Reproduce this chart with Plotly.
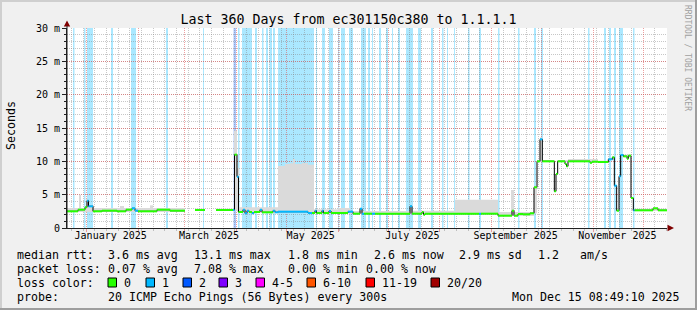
import pandas as pd
import plotly.graph_objects as go

START = pd.Timestamp("2024-12-20 08:49:10")
END = pd.Timestamp("2025-12-15 08:49:10")
SPAN_DAYS = 360.0

# ---------------- data ----------------
# median RTT step series: start of step (days after START), median (ms), loss class (0,1,2)
med_day = [0.0, 6.6, 10.8, 12.0, 12.9, 15.6, 21.0, 30.0, 35.4, 39.0,
           40.8, 42.6, 54.0, 61.8, 70.8, 76.8, 82.8, 89.4, 99.6, 100.5,
           102.0, 102.9, 105.6, 106.8, 108.0, 109.2, 111.0, 112.2, 115.8, 117.0,
           123.6, 124.8, 126.6, 144.6, 147.0, 148.8, 149.7, 153.0, 153.9, 157.2,
           158.4, 168.6, 171.6, 175.8, 177.0, 178.2, 183.0, 184.8, 205.8, 207.0,
           213.0, 213.9, 214.8, 247.2, 248.4, 258.6, 267.0, 268.2, 270.6, 273.6,
           277.8, 280.2, 282.0, 283.8, 285.2, 292.4, 293.4, 294.4, 298.8, 299.7,
           300.6, 313.8, 315.0, 318.6, 324.8, 327.2, 328.4, 329.8, 331.2, 332.2,
           333.8, 336.0, 336.8, 338.4, 339.8, 340.5, 351.6, 354.6]
med_ms = [2.5, 2.75, 3.1, 4.1, 3.25, 2.5, 2.6, 2.5, 2.75, 2.95,
          2.6, 2.5, 2.75, 2.6, None, 2.7, None, 2.7, 2.7, 11.0,
          7.7, 2.4, 2.75, 2.2, 2.6, 2.4, 2.2, 2.4, 2.75, 2.35,
          2.6, 2.35, 2.45, 2.25, 2.25, 2.6, 2.25, 2.6, 2.25, 2.55,
          2.25, 2.45, 2.15, 2.9, 2.15, 2.15, 2.15, 2.15, 3.25, 2.15,
          2.4, 2.0, 2.15, 2.15, 2.15, 1.85, 2.6, 1.85, 2.1, 2.05,
          2.2, 6.1, 10.0, 13.3, 10.0, 5.5, 8.1, 10.0, 9.6, 9.25,
          10.0, 9.8, 9.95, 9.9, 10.3, 10.6, 6.35, 2.6, 7.75, 10.95,
          10.75, 10.4, 10.85, 4.5, 2.65, 2.65, 2.95, 2.65]
med_loss = [0, 0, 0, 1, 1, 0, 0, 0, 0, 1,
            1, 0, 0, 0, 0, 0, 0, 0, 1, 0,
            1, 0, 1, 1, 1, 0, 1, 0, 1, 0,
            1, 1, 1, 1, 0, 1, 0, 1, 0, 1,
            0, 1, 0, 1, 1, 0, 1, 0, 1, 0,
            0, 0, 0, 1, 0, 0, 0, 0, 0, 0,
            0, 0, 0, 1, 0, 0, 0, 0, 0, 0,
            0, 0, 0, 0, 1, 0, 1, 0, 1, 1,
            0, 0, 0, 0, 1, 0, 0, 0]

# smoke (ping spread): step start (days), low (ms), high (ms)
smoke_day = [0.0, 7.2, 8.1, 11.4, 12.6, 16.2, 31.8, 34.2, 49.8, 51.6,
             70.8, 76.8, 82.8, 89.4, 100.2, 102.0, 102.9, 126.6, 130.8, 133.8,
             135.6, 136.8, 141.0, 144.6, 148.2, 162.6, 169.8, 205.8, 207.0, 232.8,
             258.6, 266.4, 268.2, 280.2, 282.0, 283.8, 285.2, 292.4, 293.4, 294.4,
             300.6, 318.6, 324.8, 328.4, 333.8, 338.4]
smoke_lo = [2.4, 2.4, 2.4, 2.4, 2.4, 2.4, 2.4, 2.4, 2.4, 2.4,
            None, 2.6, None, 2.6, 2.6, 2.4, 2.3, 2.3, 2.3, 2.3,
            2.3, 2.3, 2.3, 2.3, 2.2, 2.2, 2.1, 2.1, 2.1, 2.1,
            1.8, 1.8, 1.8, 2.2, 9.9, 9.9, 9.9, 5.4, 8.0, 9.9,
            9.9, 9.8, 10.2, None, 10.6, 2.6]
smoke_hi = [3.0, 5.0, 3.0, 4.3, 3.4, 3.0, 3.3, 3.0, 3.4, 3.0,
            None, 2.9, None, 2.9, 14.6, 9.0, 3.1, 9.3, 9.6, 9.7,
            10.35, 9.6, 9.75, 9.5, 2.8, 3.0, 2.55, 3.4, 2.6, 4.25,
            2.4, 5.7, 2.4, 6.3, 10.2, 13.6, 10.2, 5.7, 8.3, 10.2,
            10.35, 10.1, 10.5, None, 11.0, 2.9]

# loss background bands: start/end (days after START), loss class
band_start = [3.6, 10.2, 12.0, 26.4, 38.4, 59.4, 81.6, 99.9, 102.6, 105.0,
              112.8, 117.0, 119.4, 121.5, 123.6, 126.6, 149.4, 153.0, 157.2, 162.6,
              164.4, 169.2, 176.4, 180.6, 183.0, 187.2, 191.4, 195.0, 198.6, 203.4,
              210.6, 218.4, 225.0, 228.0, 232.2, 240.6, 247.2, 258.6, 270.6, 280.2,
              284.4, 312.6, 322.2, 325.2, 328.2, 331.2, 339.6]
band_end = [4.5, 11.1, 15.6, 27.6, 41.4, 60.6, 82.2, 101.4, 103.5, 111.0,
            114.0, 117.9, 120.6, 123.0, 124.8, 148.2, 150.0, 154.8, 159.6, 163.2,
            166.8, 171.6, 179.4, 181.8, 183.6, 188.4, 192.6, 195.6, 199.8, 207.6,
            212.4, 219.6, 225.9, 228.6, 232.8, 241.5, 248.4, 259.5, 271.5, 281.4,
            285.6, 313.5, 323.4, 326.4, 329.4, 333.6, 340.5]
band_loss = [1, 1, 1, 1, 1, 1, 1, 2, 1, 1,
             1, 1, 1, 1, 1, 1, 1, 1, 1, 1,
             1, 1, 1, 1, 1, 1, 1, 1, 1, 1,
             1, 1, 1, 1, 1, 1, 1, 1, 1, 1,
             1, 1, 1, 1, 1, 1, 1]

month_label_dates = ["2025-01-15 14:00", "2025-03-15 14:00", "2025-05-15 14:00",
                     "2025-07-15 14:00", "2025-09-15 14:00", "2025-11-15 14:00"]
month_labels = ["January 2025", "March 2025", "May 2025",
                "July 2025", "September 2025", "November 2025"]
y_tick_vals = [0, 5, 10, 15, 20, 25, 30]
y_tick_text = ["0", "5 m", "10 m", "15 m", "20 m", "25 m", "30 m"]

loss_labels = ["0", "1", "2", "3", "4-5", "6-10", "11-19", "20/20"]
loss_colors = ["#26ff00", "#00b8ff", "#0059ff", "#7e00ff", "#ff00ff", "#ff5500", "#ff0000", "#a10000"]

rtt_stats = ["3.6 ms avg", "13.1 ms max", "1.8 ms min", "2.6 ms now", "2.9 ms sd", "1.2", "am/s"]
loss_stats = ["0.07 % avg", "7.08 % max", "0.00 % min", "0.00 % now"]
probe_text = "20 ICMP Echo Pings (56 Bytes) every 300s"
stamp_text = "Mon Dec 15 08:49:10 2025"
title_text = "Last 360 Days from ec301150c380 to 1.1.1.1"

# ---------------- styling ----------------
MONO = "DejaVu Sans Mono"
BACK = "#f0f0f0"
AXIS = "#202020"
MGRID = "rgba(222,80,80,0.55)"
GRID = "rgba(130,130,130,0.45)"
SMOKE = "#dadada"
BAND = {1: "rgba(0,184,255,0.33)", 2: "rgba(0,89,255,0.33)"}
DOT = "1px,1px"

W, H = 697, 310
PL, PR, PT, PB = 67, 667, 28, 228


def px(x):
    return (x - PL) / (PR - PL)


def py(y):
    return (PB - y) / (PB - PT)


def ts(d):
    return (START + pd.to_timedelta(d, unit="D")).strftime("%Y-%m-%d %H:%M:%S")


fig = go.Figure()

# smoke bars
edges = smoke_day + [SPAN_DAYS]
sx, sw, sb, sh = [], [], [], []
for i, d in enumerate(smoke_day):
    if smoke_hi[i] is None:
        continue
    d1 = edges[i + 1]
    sx.append(ts((d + d1) / 2))
    sw.append((d1 - d) * 86400000)
    sb.append(smoke_lo[i])
    sh.append(smoke_hi[i] - smoke_lo[i])
fig.add_trace(go.Bar(x=sx, y=sh, base=sb, width=sw,
                     marker=dict(color=SMOKE, line=dict(width=0)),
                     hoverinfo="skip", showlegend=False))

# black median step line
bx, by = [], []
prev = None
for d, v in zip(med_day, med_ms):
    if v is None:
        if prev is not None:
            bx.append(ts(d)); by.append(prev)
        bx.append(ts(d)); by.append(None)
    else:
        bx.append(ts(d)); by.append(v)
    prev = v
bx.append(ts(SPAN_DAYS)); by.append(prev)
fig.add_trace(go.Scatter(x=bx, y=by, mode="lines", line=dict(color="#000000", width=1, shape="hv"),
                         connectgaps=False, hoverinfo="skip", showlegend=False))

# coloured median segments by loss class
medges = med_day + [SPAN_DAYS]
for lvl in sorted(set(med_loss)):
    xs, ys = [], []
    for i, d in enumerate(med_day):
        if med_loss[i] != lvl or med_ms[i] is None:
            continue
        xs += [ts(d), ts(medges[i + 1]), None]
        ys += [med_ms[i], med_ms[i], None]
    fig.add_trace(go.Scatter(x=xs, y=ys, mode="lines", line=dict(color=loss_colors[lvl], width=2),
                             hoverinfo="skip", showlegend=False))

# dummy trace for label axis
fig.add_trace(go.Scatter(x=[month_label_dates[0]], y=[None], xaxis="x2", mode="lines",
                         hoverinfo="skip", showlegend=False))

shapes = []
for s, e, l in zip(band_start, band_end, band_loss):
    shapes.append(dict(type="rect", xref="x", yref="y", x0=ts(s), x1=ts(e), y0=0, y1=30,
                       fillcolor=BAND[l], line=dict(width=0), layer="below"))

# arrows
shapes.append(dict(type="path", xref="paper", yref="paper", layer="above",
                   path=f"M {px(63.8)} {py(26.5)} L {px(70.2)} {py(26.5)} L {px(67)} {py(20.5)} Z",
                   fillcolor="#7f0000", line=dict(width=0)))
shapes.append(dict(type="path", xref="paper", yref="paper", layer="above",
                   path=f"M {px(667.5)} {py(224.8)} L {px(667.5)} {py(231.2)} L {px(674)} {py(228)} Z",
                   fillcolor="#7f0000", line=dict(width=0)))
shapes.append(dict(type="line", xref="paper", yref="paper", x0=px(67), x1=px(67), y0=py(228), y1=py(26),
                   line=dict(color=AXIS, width=1)))

# frame
shapes.append(dict(type="line", xref="paper", yref="paper", x0=px(0), x1=px(W), y0=py(1), y1=py(1),
                   line=dict(color="#cfcfcf", width=2)))
shapes.append(dict(type="line", xref="paper", yref="paper", x0=px(1), x1=px(1), y0=py(0), y1=py(H),
                   line=dict(color="#cfcfcf", width=2)))
shapes.append(dict(type="line", xref="paper", yref="paper", x0=px(0), x1=px(W), y0=py(H - 1), y1=py(H - 1),
                   line=dict(color="#9e9e9e", width=2)))
shapes.append(dict(type="line", xref="paper", yref="paper", x0=px(W - 1), x1=px(W - 1), y0=py(0), y1=py(H),
                   line=dict(color="#9e9e9e", width=2)))

annotations = []


def text(x, y, t, size=11.6, anchor="left", color="#000000", angle=0):
    annotations.append(dict(x=px(x), y=py(y), xref="paper", yref="paper", text=t, showarrow=False,
                            xanchor=anchor, yanchor="middle", textangle=angle, borderpad=0,
                            font=dict(family=MONO, size=size, color=color)))


text(11, 126, "Seconds", anchor="center", angle=-90)
text(688, 58, "RRDTOOL / TOBI OETIKER", size=8, anchor="center", color="#a0a0a0", angle=90)

ROW = [254.5, 268.5, 282.5, 296.5]
text(15.5, ROW[0], "median rtt:")
for x, t in zip([106.5, 192.5, 286.5, 372.5, 457.5, 536.5, 578.5], rtt_stats):
    text(x, ROW[0], t)
text(15.5, ROW[1], "packet loss:")
for x, t in zip([106.5, 192.5, 286.5, 364.5], loss_stats):
    text(x, ROW[1], t)
text(15.5, ROW[2], "loss color:")
for x, lab, col in zip([108, 146, 183, 219, 256, 307, 366, 431], loss_labels, loss_colors):
    shapes.append(dict(type="rect", xref="paper", yref="paper", x0=px(x), x1=px(x + 8.5),
                       y0=py(278), y1=py(287), fillcolor=col, line=dict(color="#000000", width=1)))
    text(x + 14.5, ROW[2], lab)
text(15.5, ROW[3], "probe:")
text(106.5, ROW[3], probe_text)
text(681, ROW[3], stamp_text, anchor="right")

fig.update_layout(
    width=W, height=H,
    margin=dict(l=PL, r=W - PR, t=PT, b=H - PB, autoexpand=False),
    paper_bgcolor=BACK, plot_bgcolor="#ffffff",
    showlegend=False, barmode="overlay",
    title=dict(text=title_text, x=0.5, xref="container", xanchor="center",
               y=1 - 19 / H, yref="container", yanchor="middle",
               font=dict(family=MONO, size=13.3, color="#000000")),
    xaxis=dict(type="date", range=[ts(0), ts(SPAN_DAYS)], showticklabels=False,
               tickmode="linear", tick0="2025-01-01", dtick="M1",
               showgrid=True, gridcolor=MGRID, griddash=DOT, gridwidth=1,
               ticks="outside", ticklen=3, tickcolor=MGRID,
               showline=True, linecolor=AXIS, linewidth=1, zeroline=False,
               minor=dict(tick0="2024-12-23", dtick=7 * 86400000, showgrid=True,
                          gridcolor=GRID, griddash=DOT, ticks="outside", ticklen=2, tickcolor=GRID)),
    xaxis2=dict(type="date", overlaying="x", anchor="y", side="bottom",
                range=[ts(0), ts(SPAN_DAYS)], tickmode="array",
                tickvals=month_label_dates, ticktext=month_labels,
                showgrid=False, ticks="", showline=False, zeroline=False,
                tickfont=dict(family=MONO, size=10, color="#000000")),
    yaxis=dict(range=[0, 30], tickmode="array", tickvals=y_tick_vals, ticktext=y_tick_text,
               showgrid=True, gridcolor=MGRID, griddash=DOT, gridwidth=1,
               ticks="outside", ticklen=4, tickcolor=AXIS,
               showline=True, linecolor=AXIS, linewidth=1, zeroline=False,
               tickfont=dict(family=MONO, size=10, color="#000000"),
               minor=dict(dtick=1, showgrid=True, gridcolor=GRID, griddash=DOT,
                          ticks="outside", ticklen=2, tickcolor=AXIS)),
    shapes=shapes, annotations=annotations,
)

fig.write_html("out.html")
